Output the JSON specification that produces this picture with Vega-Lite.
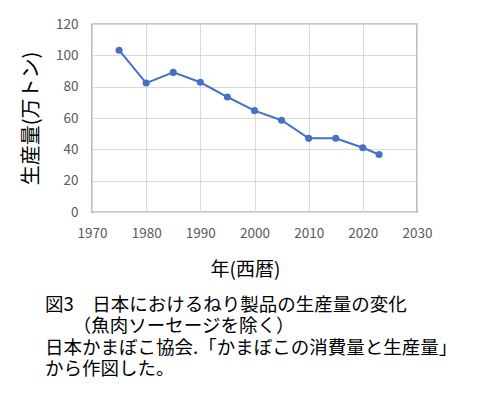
{
  "$schema": "https://vega.github.io/schema/vega-lite/v6.json",
  "width": 325,
  "height": 188,
  "autosize": {"type": "none"},
  "padding": {"left": 92, "top": 24, "right": 60, "bottom": 184},
  "background": "white",
  "config": {
    "font": "Noto Sans CJK JP",
    "view": {"stroke": "#222222", "strokeWidth": 1.2},
    "axis": {"gridColor": "#d9d9d9", "gridWidth": 1, "domain": false, "ticks": false, "labelFlush": false, "labelColor": "#595959", "labelFontSize": 13.5, "labelFont": "Noto Sans CJK JP", "titleFont": "Noto Sans CJK JP", "titleFontWeight": "normal", "titleColor": "#000000"}
  },
  "title": {
    "text": ["図3　日本におけるねり製品の生産量の変化", "\u200b\u3000\u2002（魚肉ソーセージを除く）", "日本かまぼこ協会.「かまぼこの消費量と生産量」", "から作図した。"],
    "orient": "bottom",
    "anchor": "start",
    "frame": "group",
    "dx": -47,
    "offset": 16,
    "fontSize": 18.5,
    "fontWeight": "normal",
    "lineHeight": 21.5,
    "color": "#000000",
    "font": "Noto Sans CJK JP"
  },
  "data": {"values": [
    {"year": 1975, "value": 103.3},
    {"year": 1980, "value": 82.3},
    {"year": 1985, "value": 89.1},
    {"year": 1990, "value": 82.8},
    {"year": 1995, "value": 73.4},
    {"year": 2000, "value": 64.7},
    {"year": 2005, "value": 58.6},
    {"year": 2010, "value": 47.0},
    {"year": 2015, "value": 47.1},
    {"year": 2020, "value": 41.0},
    {"year": 2023, "value": 36.7}
  ]},
  "mark": {"type": "line", "color": "#4472C4", "strokeWidth": 2, "point": {"filled": true, "size": 50, "color": "#4472C4"}},
  "encoding": {
    "x": {"field": "year", "type": "quantitative", "scale": {"domain": [1970, 2030], "nice": false, "zero": false}, "axis": {"values": [1970, 1980, 1990, 2000, 2010, 2020, 2030], "format": "d", "labelPadding": 14, "title": "年(西暦)", "titleFontSize": 19, "titlePadding": 21, "titleX": 153}},
    "y": {"field": "value", "type": "quantitative", "scale": {"domain": [0, 120], "nice": false}, "axis": {"values": [0, 20, 40, 60, 80, 100, 120], "labelPadding": 14, "title": "生産量(万トン)", "titleFontSize": 20, "titlePadding": 14}}
  }
}
